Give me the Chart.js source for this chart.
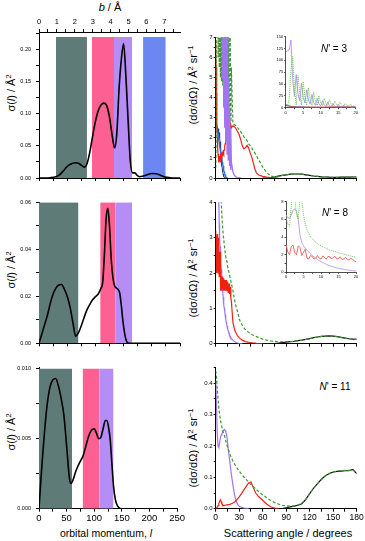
<!DOCTYPE html>
<html>
<head>
<meta charset="utf-8">
<script src="https://cdn.jsdelivr.net/npm/chart.js@4.4.1/dist/chart.umd.min.js"></script>
<style>
body { margin: 0; background: #fff; }
#fig { position: relative; width: 365px; height: 541px; overflow: hidden; background: #fff; font-family: "Liberation Sans", Arial, sans-serif; }
#fig canvas { position: absolute; }
.lbl { position: absolute; white-space: nowrap; font-size: 11px; line-height: 1; color: #000; transform: translate(-50%, -50%); }
.rot { transform: translate(-50%, -50%) rotate(-90deg); }
.lbl sup { font-size: 0.68em; vertical-align: 0.45em; line-height: 0; }
</style>
</head>
<body>
<div id="fig">
  <div class="lbl" style="left:110px;top:7px;"><i>b</i> / Å</div>
  <div class="lbl rot" style="left:10.5px;top:93px;">σ(<i>l</i>) / Å<sup>2</sup></div>
  <div class="lbl rot" style="left:10.5px;top:270px;">σ(<i>l</i>) / Å<sup>2</sup></div>
  <div class="lbl rot" style="left:10.5px;top:432px;">σ(<i>l</i>) / Å<sup>2</sup></div>
  <div class="lbl rot" style="left:193px;top:85px;">(dσ/dΩ) / Å<sup>2</sup> sr<sup>−1</sup></div>
  <div class="lbl rot" style="left:193px;top:278px;">(dσ/dΩ) / Å<sup>2</sup> sr<sup>−1</sup></div>
  <div class="lbl rot" style="left:193px;top:448px;">(dσ/dΩ) / Å<sup>2</sup> sr<sup>−1</sup></div>
  <div class="lbl" style="left:106px;top:533px;font-size:10.5px;">orbital momentum, <i>l</i></div>
  <div class="lbl" style="left:288px;top:533px;">Scattering angle / degrees</div>
  <div class="lbl" style="left:334px;top:49px;font-size:10px;z-index:5;"><i>N</i>' = 3</div>
  <div class="lbl" style="left:335px;top:213px;font-size:10px;z-index:5;"><i>N</i>' = 8</div>
  <div class="lbl" style="left:335px;top:387px;font-size:10px;"><i>N</i>' = 11</div>
</div>
<script>
// ---- left column: sigma(l) vs orbital momentum l ----
const lTop = [0,10,20,30,35,40,45,50,55,60,65,70,75,80,85,90,95,100,105,110,115,120,125,130,134,138,142,146,150,154,158,162,166,170,174,178,185,192,200,208,216,224,232,240,250];
const sigmaTop = [0,0,0.0005,0.002,0.004,0.008,0.013,0.018,0.021,0.023,0.0238,0.023,0.02,0.017,0.022,0.04,0.065,0.088,0.105,0.114,0.117,0.113,0.095,0.065,0.047,0.07,0.14,0.185,0.21,0.16,0.09,0.025,0.008,0.008,0.004,0.002,0.003,0.005,0.007,0.0065,0.004,0.0015,0.0005,0,0];

const lMid = [0,5,10,15,20,25,30,35,40,45,50,55,60,65,70,75,80,85,90,95,100,105,110,113,116,119,122,125,128,131,134,137,140,143,146,149,152,155,158,162,170,200,250];
const sigmaMid = [0,0.004,0.008,0.012,0.017,0.021,0.0235,0.0248,0.025,0.023,0.02,0.0155,0.009,0.003,0.0045,0.0075,0.011,0.0142,0.0165,0.0185,0.0198,0.021,0.0235,0.026,0.038,0.053,0.0575,0.05,0.036,0.028,0.0245,0.0235,0.023,0.0215,0.016,0.009,0.004,0.001,0.0002,0,0,0,0];

const lBot = [0,3,6,10,15,20,25,30,35,40,45,50,55,58,62,66,70,75,80,85,90,95,100,104,108,112,116,120,123,126,129,132,135,138,141,144,148,155,200,250];
const sigmaBot = [0,0.0018,0.0035,0.0055,0.0075,0.0087,0.0092,0.0093,0.0088,0.0079,0.0067,0.0045,0.0022,0.0018,0.0021,0.0026,0.003,0.0034,0.0038,0.0045,0.0052,0.0056,0.0057,0.0054,0.005,0.0051,0.0057,0.0063,0.0063,0.0058,0.0049,0.0032,0.0016,0.0007,0.0003,0.0001,0,0,0,0];

// shaded l ranges (gray, pink, purple, blue)
const bandColors = ['#5f7b78', '#fd6093', '#b68cf5', '#6c86f2'];
const bandTopFrom = [30, 94, 133, 184.5], bandTopTo = [85, 133, 165, 224.7];
const bandMidFrom = [0, 108.5, 135], bandMidTo = [70, 135, 165];
const bandBotFrom = [0, 79, 110], bandBotTo = [60, 110, 135];

// ---- right column: dsigma/dOmega vs scattering angle ----
const fineAngles = [0,0.5,1,1.5,2,2.5,3,3.5,4,4.5,5,5.5,6,6.5,7,7.5,8,8.5,9,9.5,10,10.5,11,11.5,12,12.5,13,13.5,14,14.5,15,15.5,16,16.5,17,17.5,18,18.5,19,19.5,20];
const coarseAngles = [22,24,26,28,30,32,34,36,38,40,42,44,46,48,50,52,55,60,65,70,75,80,85,90,95,100,105,110,115,120,125,130,135,140,145,150,155,160,165,170,175,180];
const backAngles = [60,65,70,75,80,85,90,95,100,105,110,115,120,125,130,135,140,145,150,155,160,165,170,175,180];

// N' = 3
const purpleFine3 = [118,120,122,143,60,24,70,30,14,52,22,10,38,16,7.5,28,11,5,20,8,3.5,15,6,2.5,12,4.5,1.8,9,3.2,1.2,7,2.4,0.9,5,1.8,0.6,3.5,1.2,0.4,2.5,0.8];
const purpleCoarse3 = [0.3,0.12,0.05,0.02,0.01,0];
const greenFine3 = [0.5,2,20,80,108,40,6,68,30,5.5,55,22,5,42,17,4.8,32,13,4.6,25,10,4.4,20,8.5,4.2,17,7.5,4.0,14,6.5,3.8,12,5.5,3.5,9,4.5,3.0,7,4,2.8,5.5];
const greenCoarse3 = [2.7,2.65,2.6,2.5,2.4,2.3,2.2,2.05,1.95,1.85,1.7,1.6,1.5,1.35,1.25,1.1,0.9,0.55,0.28,0.1,0.06,0.09,0.13,0.16,0.19,0.2,0.2,0.19,0.16,0.13,0.1,0.08,0.06,0.05,0.04,0.035,0.035,0.04,0.04,0.045,0.05,0.05];
const redFine3 = [6.8,5.5,4,2.8,2,1.5,1.2,1,0.85,0.9,1.1,0.8,0.9,1.2,1.0,1.0,1.3,1.1,1.2,1.3,1.2,1.35,1.4,1.6,1.7,1.9,2.0,2.15,2.1,2.3,2.2,2.45,2.35,2.6,2.45,2.6,2.4,2.7,2.5,2.65,2.5];
const redCoarse3 = [2.6,2.55,2.45,2.3,2.15,1.9,1.6,1.45,1.5,1.62,1.5,1.25,1.05,0.75,0.45,0.25,0.15,0.08,0.04,0.02,0.01,0];
const blueFine3 = [5.5,4.2,3.2,2.7,2.4,2.3,2.2,2.05,1.9,1.75,1.6,1.47,1.35,1.25,1.15,1.05,0.9,0.8,0.7,0.6,0.5,0.4,0.3,0.23,0.17,0.12,0.07,0.04,0.02,0.01,0];
const navyFine3 = [2.9,2.6,2.5,2.6,2.45,2.3,2.45,2.3,2.2,2.25,2.0,1.8,1.5,1.25,1.0,0.8,0.6,0.45,0.3,0.2,0.12,0.07,0.03,0.01,0];
const black3 = [0,0,0.02,0.05,0.09,0.13,0.16,0.19,0.2,0.2,0.19,0.16,0.13,0.1,0.08,0.06,0.05,0.04,0.035,0.035,0.04,0.04,0.045,0.05,0.05];

// N' = 8
const purpleFine8 = [6.5,6.2,6.1,6.5,7.0,7.2,6.9,6.0,4.2,3.4,3.0,2.75,2.5,2.3,2.1,1.9,1.75,1.6,1.45,1.32,1.2,1.1,1.0,0.91,0.82,0.75,0.68,0.61,0.55,0.5,0.45,0.41,0.37,0.33,0.3,0.27,0.24,0.21,0.19,0.17,0.15];
const purpleCoarse8 = [0.1,0.06,0.035,0.02,0.01,0.005,0];
const greenFine8 = [6.3,5.5,5.2,7.5,9,8.5,6.5,6,8.5,8.2,6.5,5.5,4.8,4.4,4.0,3.8,3.6,3.4,3.25,3.1,3.0,2.9,2.8,2.7,2.6,2.5,2.45,2.4,2.35,2.3,2.2,2.15,2.1,2.05,2.0,1.95,1.9,1.85,1.8,1.75,1.7];
const greenCoarse8 = [1.5,1.25,1.05,0.9,0.7,0.6,0.52,0.45,0.4,0.36,0.32,0.29,0.26,0.24,0.22,0.2,0.17,0.13,0.1,0.08,0.065,0.055,0.055,0.055,0.06,0.07,0.085,0.1,0.12,0.145,0.17,0.19,0.205,0.215,0.22,0.215,0.2,0.18,0.16,0.14,0.13,0.12];
const redFine8 = [3.2,2.3,2.0,2.9,3.1,2.2,2.0,3.0,2.8,1.9,2.3,2.6,1.6,1.5,1.9,1.8,1.5,1.6,1.9,1.6,1.5,1.85,1.7,1.5,1.8,1.75,1.5,1.7,1.8,1.5,1.6,1.75,1.45,1.5,1.7,1.45,1.4,1.6,1.45,1.3,1.2];
const redCoarse8 = [0.6,0.4,0.3,0.22,0.17,0.13,0.1,0.08,0.06,0.05,0.04,0.03,0.025,0.02,0.015,0.01,0.005,0];
const black8 = [0,0,0,0.005,0.015,0.03,0.045,0.06,0.07,0.085,0.1,0.12,0.145,0.17,0.19,0.205,0.215,0.22,0.215,0.2,0.18,0.16,0.14,0.13,0.12];

// N' = 11
const ang11 = [0,1,2,3,4,5,6,7,8,9,10,11,12,13,14,15,16,18,20,22,24,26,28,30,33,36,39,42,45,48,51,55,60,65,70,75,80,85,90,95,100,105,110,115,120,125,130,135,140,145,150,155,160,165,170,175,180];
const purple11 = [0.41,0.33,0.24,0.2,0.195,0.21,0.225,0.235,0.24,0.245,0.25,0.253,0.25,0.245,0.235,0.215,0.19,0.15,0.11,0.075,0.045,0.025,0.014,0.008,0.004,0.002,0.001,0];
const green11 = [0.44,0.42,0.38,0.35,0.32,0.3,0.285,0.27,0.26,0.25,0.24,0.235,0.225,0.215,0.205,0.198,0.19,0.175,0.163,0.152,0.143,0.135,0.127,0.12,0.11,0.101,0.093,0.085,0.077,0.07,0.063,0.054,0.044,0.035,0.027,0.02,0.015,0.011,0.009,0.008,0.009,0.012,0.018,0.03,0.048,0.065,0.08,0.093,0.104,0.112,0.117,0.12,0.121,0.122,0.122,0.124,0.115];
const red11 = [0,0.002,0.005,0.01,0.016,0.024,0.028,0.022,0.015,0.012,0.01,0.01,0.011,0.011,0.012,0.012,0.013,0.014,0.016,0.018,0.021,0.026,0.032,0.038,0.048,0.06,0.071,0.082,0.085,0.068,0.05,0.038,0.027,0.015,0.006,0.002,0];
const black11 = [0,0,0,0,0,0,0.003,0.006,0.008,0.011,0.016,0.03,0.048,0.066,0.08,0.094,0.105,0.112,0.117,0.119,0.12,0.121,0.121,0.125,0.112];

const RED = '#ee2211', GREEN = '#3b9a2f', PURPLE = '#a274ee', BLUE = '#2f6fe0', NAVY = '#243a8c';

Chart.defaults.font.family = '"Liberation Sans", Arial, sans-serif';
Chart.defaults.color = '#000';

const fig = document.getElementById('fig');

function zip(xs, ys) {
  return ys.map((y, i) => ({ x: xs[i], y: y }));
}

function addCanvas(left, top, w, h, z) {
  const c = document.createElement('canvas');
  c.width = w; c.height = h;
  c.style.left = left + 'px'; c.style.top = top + 'px';
  c.style.width = w + 'px'; c.style.height = h + 'px';
  c.style.zIndex = z || 1;
  fig.appendChild(c);
  return c;
}

function axis(o) {
  return {
    type: 'linear', axis: o.axis, position: o.position, min: o.min, max: o.max,
    afterFit: s => { if (o.axis === 'y') s.width = o.size; else s.height = o.size; },
    border: { display: true, color: '#000', width: o.bw || 1 },
    grid: { display: true, drawOnChartArea: false, drawTicks: true, tickLength: o.tl || 3, color: '#000', lineWidth: o.bw || 1 },
    ticks: {
      stepSize: o.step, autoSkip: false, maxRotation: 0, includeBounds: false,
      padding: o.pad == null ? 2 : o.pad, font: { size: o.font }, color: '#000',
      callback: v => {
        if (o.hide) return '';
        const k = v / o.major;
        return Math.abs(k - Math.round(k)) < 1e-6 ? o.fmt(v) : '';
      }
    }
  };
}

function curve(data, color, width, dash, order, smooth) {
  return {
    data: data, borderColor: color, borderWidth: width, borderDash: dash || [],
    pointRadius: 0, fill: false, tension: 0, order: order,
    cubicInterpolationMode: smooth ? 'monotone' : 'default'
  };
}

function bands(from, to, top) {
  return from.map((a, i) => ({
    data: [{ x: a, y: top }, { x: to[i], y: top }],
    borderWidth: 0, borderColor: 'rgba(0,0,0,0)', backgroundColor: bandColors[i],
    fill: 'origin', pointRadius: 0, order: 10
  }));
}

function draw(canvas, datasets, scales, pad) {
  return new Chart(canvas, {
    type: 'line',
    data: { datasets: datasets },
    options: {
      responsive: false, animation: false, events: [],
      layout: { padding: pad },
      plugins: { legend: { display: false }, tooltip: { enabled: false } },
      scales: scales
    }
  });
}

const f2 = v => v.toFixed(2), f3 = v => v.toFixed(3), f1 = v => v.toFixed(1), f0 = v => String(Math.round(v));

// ---------- left column ----------
draw(addCanvas(0, 0, 186, 190),
  [curve(zip(lTop, sigmaTop), '#000', 1.6, null, 0, true)].concat(bands(bandTopFrom, bandTopTo, 0.22)),
  {
    x: axis({ axis: 'x', position: 'bottom', min: 0, max: 250, step: 25, major: 50, size: 12, font: 9, hide: true }),
    b: axis({ axis: 'x', position: 'top', min: 0, max: 7.875, step: 0.5, major: 1, size: 32, font: 7.5, fmt: f0, pad: 3 }),
    y: axis({ axis: 'y', position: 'left', min: 0, max: 0.228, step: 0.025, major: 0.05, size: 39, font: 5.5, fmt: f2, pad: 5 })
  },
  { top: 0, right: 6, left: 0, bottom: 0 });

draw(addCanvas(0, 190, 186, 165),
  [curve(zip(lMid, sigmaMid), '#000', 1.6, null, 0, true)].concat(bands(bandMidFrom, bandMidTo, 0.06)),
  {
    x: axis({ axis: 'x', position: 'bottom', min: 0, max: 250, step: 25, major: 50, size: 11.7, font: 9, hide: true }),
    y: axis({ axis: 'y', position: 'left', min: 0, max: 0.06, step: 0.01, major: 0.02, size: 39, font: 5.5, fmt: f2, pad: 5 })
  },
  { top: 12.3, right: 6, left: 0, bottom: 0 });

draw(addCanvas(0, 355, 186, 186),
  [curve(zip(lBot, sigmaBot), '#000', 1.6, null, 0, true)].concat(bands(bandBotFrom, bandBotTo, 0.01)),
  {
    x: axis({ axis: 'x', position: 'bottom', min: 0, max: 250, step: 25, major: 50, size: 32.3, font: 9.5, fmt: f0, pad: 1 }),
    y: axis({ axis: 'y', position: 'left', min: 0, max: 0.0101, step: 0.0025, major: 0.005, size: 39, font: 5.5, fmt: f3, pad: 5 })
  },
  { top: 12.3, right: 6, left: 0, bottom: 0 });

// ---------- right column ----------
draw(addCanvas(186, 0, 179, 190),
  [
    curve(zip(fineAngles, purpleFine3).concat(zip(coarseAngles, purpleCoarse3)), PURPLE, 1.3, null, 0),
    curve(zip(fineAngles, greenFine3).concat(zip(coarseAngles, greenCoarse3)), GREEN, 1.2, [3, 2], 1),
    curve(zip(fineAngles, redFine3).concat(zip(coarseAngles, redCoarse3)), RED, 1.2, null, 2),
    curve(zip(fineAngles, blueFine3), BLUE, 1.2, null, 3),
    curve(zip(fineAngles, navyFine3), NAVY, 1, null, 4),
    curve(zip(backAngles, black3), '#111', 1.2, null, 5)
  ],
  {
    x: axis({ axis: 'x', position: 'bottom', min: 0, max: 180, step: 15, major: 30, size: 12, font: 8, hide: true }),
    y: axis({ axis: 'y', position: 'left', min: 0, max: 7, step: 0.5, major: 1, size: 29.7, font: 6, fmt: f0, pad: 1, tl: 2 })
  },
  { top: 37.3, right: 8.3, left: 0, bottom: 0 });

draw(addCanvas(186, 190, 179, 165),
  [
    curve(zip(fineAngles, greenFine8).concat(zip(coarseAngles, greenCoarse8)), GREEN, 1.2, [3, 2], 0),
    curve(zip(fineAngles, redFine8).concat(zip(coarseAngles, redCoarse8)), RED, 1.2, null, 1),
    curve(zip(fineAngles, purpleFine8).concat(zip(coarseAngles, purpleCoarse8)), PURPLE, 1.2, null, 2),
    curve(zip(backAngles, black8), '#111', 1.2, null, 5)
  ],
  {
    x: axis({ axis: 'x', position: 'bottom', min: 0, max: 180, step: 15, major: 30, size: 11.3, font: 8, hide: true }),
    y: axis({ axis: 'y', position: 'left', min: 0, max: 4, step: 0.5, major: 1, size: 29.7, font: 6, fmt: f0, pad: 1, tl: 2 })
  },
  { top: 12.3, right: 8.3, left: 0, bottom: 0 });

draw(addCanvas(186, 355, 179, 186),
  [
    curve(zip(ang11, green11), GREEN, 1.2, [3, 2], 0),
    curve(zip(ang11, red11), RED, 1.2, null, 1),
    curve(zip(ang11, purple11), PURPLE, 1.2, null, 2),
    curve(zip(backAngles, black11), '#111', 1.2, null, 5)
  ],
  {
    x: axis({ axis: 'x', position: 'bottom', min: 0, max: 180, step: 15, major: 30, size: 32.3, font: 8.5, fmt: f0, pad: 1 }),
    y: axis({ axis: 'y', position: 'left', min: 0, max: 0.45, step: 0.05, major: 0.1, size: 29.7, font: 6, fmt: f1, pad: 1, tl: 2 })
  },
  { top: 12.6, right: 8.3, left: 0, bottom: 0 });

// ---------- insets (0-20 degrees) ----------
draw(addCanvas(270, 28, 92, 92, 3),
  [
    curve(zip(fineAngles, greenFine3), '#6cc05c', 1, [1, 1], 0),
    curve(zip(fineAngles, purpleFine3), '#b48cf0', 0.9, null, 1),
    curve(zip(fineAngles, redFine3), '#f04a3a', 0.9, null, 2),
    curve(zip(fineAngles, blueFine3), '#3050b0', 0.9, null, 3)
  ],
  {
    x: axis({ axis: 'x', position: 'bottom', min: 0, max: 20, step: 2.5, major: 5, size: 12.3, font: 4, fmt: f0, pad: 1, tl: 1.5, bw: 0.7 }),
    y: axis({ axis: 'y', position: 'left', min: 0, max: 150, step: 25, major: 25, size: 15.7, font: 4, fmt: f0, pad: 1, tl: 1.5, bw: 0.7 })
  },
  { top: 8.7, right: 6.3, left: 0, bottom: 0 });

draw(addCanvas(270, 193, 92, 92, 3),
  [
    curve(zip(fineAngles, greenFine8), '#6cc05c', 1, [1, 1], 0),
    curve(zip(fineAngles, purpleFine8), '#b896f2', 0.9, null, 1),
    curve(zip(fineAngles, redFine8), '#f05a50', 0.9, null, 2)
  ],
  {
    x: axis({ axis: 'x', position: 'bottom', min: 0, max: 20, step: 2.5, major: 5, size: 12.7, font: 4, fmt: f0, pad: 1, tl: 1.5, bw: 0.7 }),
    y: axis({ axis: 'y', position: 'left', min: 0, max: 8, step: 1, major: 2, size: 16, font: 4, fmt: f0, pad: 1, tl: 1.5, bw: 0.7 })
  },
  { top: 8.7, right: 6, left: 0, bottom: 0 });
</script>
</body>
</html>
